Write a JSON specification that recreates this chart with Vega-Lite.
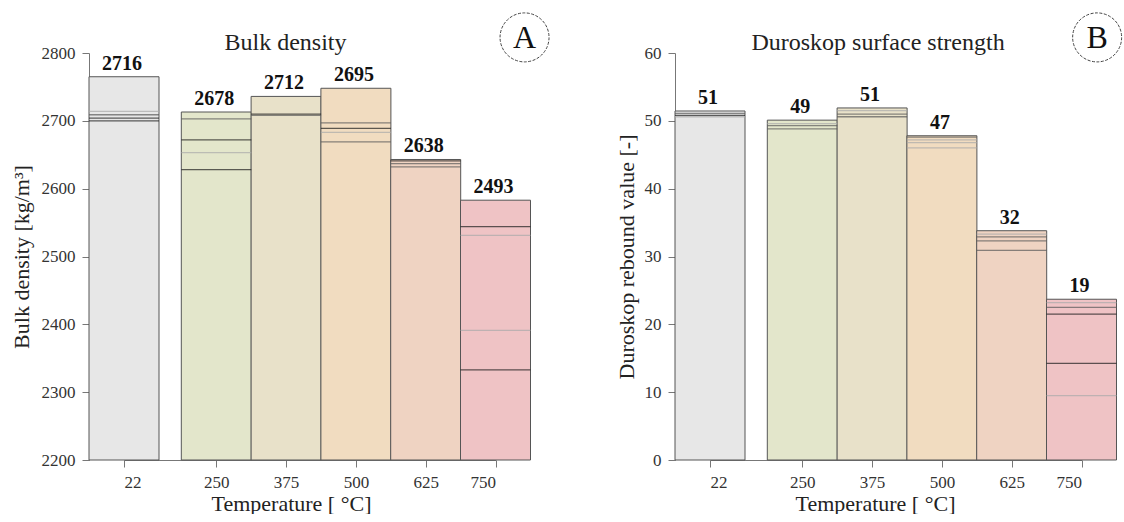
{
  "$schema": "https://vega.github.io/schema/vega-lite/v6.json",
  "padding": {"left": 10, "top": 10, "right": 0, "bottom": 0},
  "spacing": 63,
  "config": {
    "font": "Liberation Serif",
    "view": {"stroke": null},
    "axis": {
      "labelFont": "Liberation Serif", "titleFont": "Liberation Serif",
      "labelFontSize": 17, "titleFontSize": 22, "titleFontWeight": "normal",
      "labelColor": "#333333", "titleColor": "#222222",
      "domainColor": "#777777", "tickColor": "#777777", "grid": false,
      "tickSize": 7, "labelPadding": 7
    },
    "title": {"font": "Liberation Serif", "fontSize": 24, "fontWeight": "normal", "color": "#222222"}
  },
  "datasets": {
    "bulk_bars": [
      {"temperature": 22, "top": 2765, "mean": 2716},
      {"temperature": 250, "top": 2713, "mean": 2678},
      {"temperature": 375, "top": 2736, "mean": 2712},
      {"temperature": 500, "top": 2748, "mean": 2695},
      {"temperature": 625, "top": 2643, "mean": 2638},
      {"temperature": 750, "top": 2583, "mean": 2493}
    ],
    "bulk_lines": [
      {"temperature": 22, "value": 2714, "tone": "l"},
      {"temperature": 22, "value": 2709, "tone": "d"},
      {"temperature": 22, "value": 2704, "tone": "k"},
      {"temperature": 22, "value": 2700, "tone": "k"},
      {"temperature": 250, "value": 2703, "tone": "d"},
      {"temperature": 250, "value": 2672, "tone": "k"},
      {"temperature": 250, "value": 2653, "tone": "l"},
      {"temperature": 250, "value": 2628, "tone": "k"},
      {"temperature": 375, "value": 2710, "tone": "k"},
      {"temperature": 375, "value": 2708, "tone": "d"},
      {"temperature": 500, "value": 2697, "tone": "d"},
      {"temperature": 500, "value": 2689, "tone": "k"},
      {"temperature": 500, "value": 2683, "tone": "l"},
      {"temperature": 500, "value": 2669, "tone": "d"},
      {"temperature": 625, "value": 2641, "tone": "k"},
      {"temperature": 625, "value": 2637, "tone": "d"},
      {"temperature": 625, "value": 2632, "tone": "d"},
      {"temperature": 750, "value": 2544, "tone": "k"},
      {"temperature": 750, "value": 2531, "tone": "l"},
      {"temperature": 750, "value": 2391, "tone": "l"},
      {"temperature": 750, "value": 2333, "tone": "k"}
    ],
    "duro_bars": [
      {"temperature": 22, "top": 51.45, "mean": 51},
      {"temperature": 250, "top": 50.1, "mean": 49},
      {"temperature": 375, "top": 51.9, "mean": 51},
      {"temperature": 500, "top": 47.8, "mean": 47},
      {"temperature": 625, "top": 33.8, "mean": 32},
      {"temperature": 750, "top": 23.7, "mean": 19}
    ],
    "duro_lines": [
      {"temperature": 22, "value": 51.1, "tone": "d"},
      {"temperature": 22, "value": 50.8, "tone": "k"},
      {"temperature": 22, "value": 50.6, "tone": "l"},
      {"temperature": 250, "value": 49.6, "tone": "l"},
      {"temperature": 250, "value": 49.3, "tone": "d"},
      {"temperature": 250, "value": 48.8, "tone": "d"},
      {"temperature": 375, "value": 51.5, "tone": "l"},
      {"temperature": 375, "value": 51.0, "tone": "d"},
      {"temperature": 375, "value": 50.6, "tone": "d"},
      {"temperature": 500, "value": 47.6, "tone": "d"},
      {"temperature": 500, "value": 47.2, "tone": "l"},
      {"temperature": 500, "value": 46.8, "tone": "l"},
      {"temperature": 500, "value": 46.0, "tone": "l"},
      {"temperature": 625, "value": 33.3, "tone": "l"},
      {"temperature": 625, "value": 32.9, "tone": "d"},
      {"temperature": 625, "value": 32.3, "tone": "d"},
      {"temperature": 625, "value": 30.9, "tone": "d"},
      {"temperature": 750, "value": 23.2, "tone": "l"},
      {"temperature": 750, "value": 22.5, "tone": "d"},
      {"temperature": 750, "value": 21.5, "tone": "k"},
      {"temperature": 750, "value": 14.25, "tone": "k"},
      {"temperature": 750, "value": 9.5, "tone": "l"}
    ]
  },
  "hconcat": [
    {
      "width": 441, "height": 407,
      "title": {"text": "Bulk density", "frame": "group", "dx": -24, "offset": -63, "baseline": "alphabetic"},
      "resolve": {"scale": {"color": "independent"}},
      "layer": [
        {
          "data": {"name": "bulk_bars"},
          "mark": {"type": "bar", "size": 70, "orient": "vertical", "stroke": "#555555", "strokeWidth": 1},
          "encoding": {
            "x": {"field": "temperature", "type": "quantitative",
              "scale": {"domain": [22, 250, 750], "range": [35, 127.3, 406.5], "nice": false, "zero": false, "padding": 0},
              "axis": {"values": [22, 250, 375, 500, 625, 750], "format": "d", "title": "Temperature [ °C]", "titleX": 202, "titlePadding": 3}},
            "y": {"field": "top", "type": "quantitative",
              "scale": {"domain": [2200, 2800], "nice": false, "zero": false, "padding": 0},
              "axis": {"values": [2200, 2250, 2300, 2350, 2400, 2450, 2500, 2550, 2600, 2650, 2700, 2750, 2800], "format": "d",
                "labelExpr": "datum.value % 100 === 0 ? datum.label : ''", "title": "Bulk density [kg/m³]", "titlePadding": 8}},
            "y2": {"datum": 2200},
            "color": {"field": "temperature", "type": "nominal",
              "scale": {"domain": [22, 250, 375, 500, 625, 750], "range": ["#e7e7e7", "#e3e6cb", "#e8e1c9", "#f1dcc0", "#efd3c2", "#efc3c5"]},
              "legend": null}
          }
        },
        {
          "data": {"name": "bulk_lines"},
          "mark": {"type": "tick", "orient": "horizontal", "size": 70, "thickness": 1.3},
          "encoding": {
            "x": {"field": "temperature", "type": "quantitative"},
            "y": {"field": "value", "type": "quantitative"},
            "color": {"field": "tone", "type": "nominal",
              "scale": {"domain": ["k", "d", "l"], "range": ["#1e1e1e", "#5a5a5a", "#aaaaaa"]}, "legend": null}
          }
        },
        {
          "data": {"name": "bulk_bars"},
          "mark": {"type": "text", "baseline": "bottom", "dy": -3, "dx": -2, "fontSize": 20, "fontWeight": "bold", "color": "#111111", "font": "Liberation Serif"},
          "encoding": {
            "x": {"field": "temperature", "type": "quantitative"},
            "y": {"field": "top", "type": "quantitative"},
            "text": {"field": "mean", "type": "quantitative", "format": "d"}
          }
        },
        {
          "data": {"values": [{"panel": "A"}]},
          "mark": {"type": "point", "shape": "circle", "size": 2401, "filled": false, "stroke": "#444444", "strokeWidth": 1, "strokeDash": [3, 1.5], "opacity": 1},
          "encoding": {
            "x": {"datum": 802, "type": "quantitative"},
            "y": {"datum": 2823, "type": "quantitative"}
          }
        },
        {
          "data": {"values": [{"panel": "A"}]},
          "mark": {"type": "text", "fontSize": 32, "color": "#111111", "font": "Liberation Serif", "baseline": "middle", "dy": 1},
          "encoding": {
            "x": {"datum": 802, "type": "quantitative"},
            "y": {"datum": 2823, "type": "quantitative"},
            "text": {"field": "panel"}
          }
        }
      ]
    },
    {
      "width": 442, "height": 407,
      "title": {"text": "Duroskop surface strength", "frame": "group", "dx": -18, "offset": -63, "baseline": "alphabetic"},
      "resolve": {"scale": {"color": "independent"}},
      "layer": [
        {
          "data": {"name": "duro_bars"},
          "mark": {"type": "bar", "size": 70, "orient": "vertical", "stroke": "#555555", "strokeWidth": 1},
          "encoding": {
            "x": {"field": "temperature", "type": "quantitative",
              "scale": {"domain": [22, 250, 750], "range": [35, 127.3, 406.5], "nice": false, "zero": false, "padding": 0},
              "axis": {"values": [22, 250, 375, 500, 625, 750], "format": "d", "title": "Temperature [ °C]", "titleX": 200, "titlePadding": 3}},
            "y": {"field": "top", "type": "quantitative",
              "scale": {"domain": [0, 60], "nice": false, "padding": 0},
              "axis": {"values": [0, 5, 10, 15, 20, 25, 30, 35, 40, 45, 50, 55, 60], "format": "d",
                "labelExpr": "datum.value % 10 === 0 ? datum.label : ''", "title": "Duroskop rebound value [-]", "titlePadding": 6}},
            "y2": {"datum": 0},
            "color": {"field": "temperature", "type": "nominal",
              "scale": {"domain": [22, 250, 375, 500, 625, 750], "range": ["#e7e7e7", "#e3e6cb", "#e8e1c9", "#f1dcc0", "#efd3c2", "#efc3c5"]},
              "legend": null}
          }
        },
        {
          "data": {"name": "duro_lines"},
          "mark": {"type": "tick", "orient": "horizontal", "size": 70, "thickness": 1.3},
          "encoding": {
            "x": {"field": "temperature", "type": "quantitative"},
            "y": {"field": "value", "type": "quantitative"},
            "color": {"field": "tone", "type": "nominal",
              "scale": {"domain": ["k", "d", "l"], "range": ["#1e1e1e", "#5a5a5a", "#aaaaaa"]}, "legend": null}
          }
        },
        {
          "data": {"name": "duro_bars"},
          "mark": {"type": "text", "baseline": "bottom", "dy": -3, "dx": -2, "fontSize": 20, "fontWeight": "bold", "color": "#111111", "font": "Liberation Serif"},
          "encoding": {
            "x": {"field": "temperature", "type": "quantitative"},
            "y": {"field": "top", "type": "quantitative"},
            "text": {"field": "mean", "type": "quantitative", "format": "d"}
          }
        },
        {
          "data": {"values": [{"panel": "B"}]},
          "mark": {"type": "point", "shape": "circle", "size": 2401, "filled": false, "stroke": "#444444", "strokeWidth": 1, "strokeDash": [3, 1.5], "opacity": 1},
          "encoding": {
            "x": {"datum": 778, "type": "quantitative"},
            "y": {"datum": 62.3, "type": "quantitative"}
          }
        },
        {
          "data": {"values": [{"panel": "B"}]},
          "mark": {"type": "text", "fontSize": 32, "color": "#111111", "font": "Liberation Serif", "baseline": "middle", "dy": 1},
          "encoding": {
            "x": {"datum": 778, "type": "quantitative"},
            "y": {"datum": 62.3, "type": "quantitative"},
            "text": {"field": "panel"}
          }
        }
      ]
    }
  ]
}
